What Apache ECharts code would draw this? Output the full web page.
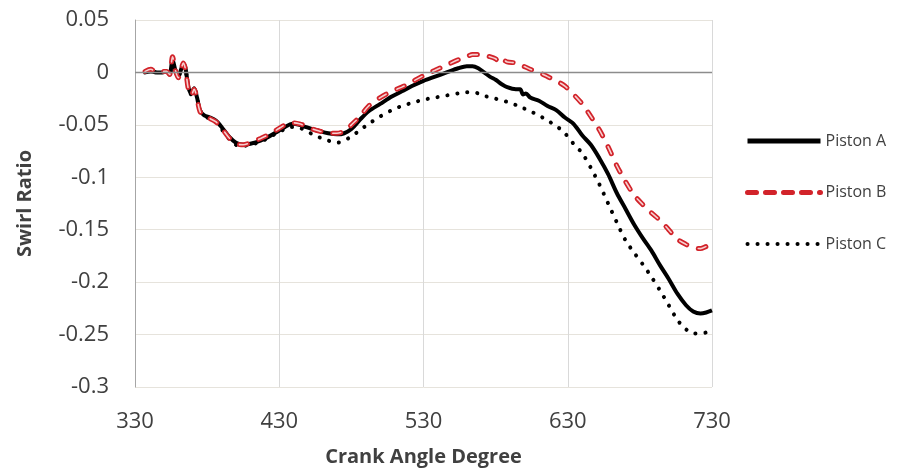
<!DOCTYPE html>
<html>
<head>
<meta charset="utf-8">
<script src="https://cdn.jsdelivr.net/npm/echarts@6/dist/echarts.min.js"></script>
<style>
  html, body { margin: 0; padding: 0; background: #fff; }
  #swirlChart { width: 897px; height: 472px; }
</style>
</head>
<body>
<div id="swirlChart"></div>
<script>
  // crank angle (deg)
  const angles = [337, 341, 345, 349, 352, 354, 356, 358, 360, 362,
    363.5, 365, 367, 369, 371, 373, 375, 378, 382, 386,
    390, 395, 400, 405, 410, 417, 423, 428, 434, 439,
    444, 448, 453, 458, 464, 470, 475, 480, 486, 492,
    500, 508, 515, 522, 530, 538, 546, 554, 560, 564,
    568, 572, 576, 580, 582, 584, 588, 594, 597, 599,
    601, 604, 610, 616, 622, 628, 634, 640, 646, 652,
    658, 664, 670, 676, 682, 688, 694, 700, 706, 712,
    717, 722, 726, 730];

  const pistonA = [0.000, 0.001, 0.000, 0.000, 0.001, -0.002, 0.012, 0.002, -0.004, 0.003,
    0.008, 0.004, -0.014, -0.020, -0.015, -0.024, -0.036, -0.041, -0.043, -0.046,
    -0.052, -0.061, -0.067, -0.069, -0.068, -0.065, -0.061, -0.057, -0.052, -0.049,
    -0.050, -0.052, -0.054, -0.056, -0.058, -0.059, -0.058, -0.054, -0.045, -0.037,
    -0.030, -0.023, -0.018, -0.013, -0.008, -0.004, 0.000, 0.004, 0.006, 0.006,
    0.004, 0.000, -0.004, -0.007, -0.009, -0.011, -0.014, -0.016, -0.016, -0.021,
    -0.020, -0.024, -0.027, -0.032, -0.036, -0.043, -0.049, -0.060, -0.069, -0.082,
    -0.097, -0.115, -0.130, -0.145, -0.158, -0.170, -0.184, -0.197, -0.211, -0.222,
    -0.228, -0.230, -0.229, -0.227];

  const pistonB = [0.001, 0.003, 0.000, 0.001, 0.001, -0.002, 0.015, 0.002, -0.005, 0.003,
    0.009, 0.003, -0.016, -0.022, -0.016, -0.025, -0.037, -0.042, -0.044, -0.047,
    -0.053, -0.062, -0.068, -0.069, -0.067, -0.063, -0.059, -0.055, -0.050, -0.048,
    -0.049, -0.051, -0.054, -0.056, -0.058, -0.058, -0.056, -0.050, -0.042, -0.032,
    -0.024, -0.018, -0.014, -0.009, -0.003, 0.002, 0.007, 0.012, 0.015, 0.017,
    0.017, 0.016, 0.015, 0.013, 0.010, 0.013, 0.010, 0.009, 0.007, 0.006,
    0.005, 0.003, 0.000, -0.004, -0.008, -0.013, -0.021, -0.030, -0.042, -0.055,
    -0.071, -0.089, -0.104, -0.117, -0.126, -0.134, -0.141, -0.150, -0.159, -0.164,
    -0.167, -0.168, -0.166, -0.164];

  const pistonC = [0.000, 0.001, 0.000, 0.000, 0.001, -0.002, 0.011, 0.002, -0.004, 0.003,
    0.007, 0.003, -0.014, -0.021, -0.016, -0.024, -0.036, -0.042, -0.044, -0.047,
    -0.054, -0.063, -0.069, -0.070, -0.069, -0.066, -0.062, -0.058, -0.054, -0.052,
    -0.053, -0.055, -0.059, -0.062, -0.065, -0.067, -0.065, -0.061, -0.055, -0.049,
    -0.042, -0.036, -0.032, -0.029, -0.026, -0.024, -0.022, -0.020, -0.019, -0.019,
    -0.020, -0.022, -0.024, -0.025, -0.026, -0.027, -0.028, -0.031, -0.032, -0.034,
    -0.035, -0.037, -0.041, -0.046, -0.051, -0.058, -0.068, -0.077, -0.091, -0.107,
    -0.125, -0.143, -0.160, -0.172, -0.183, -0.195, -0.208, -0.222, -0.236, -0.245,
    -0.249, -0.249, -0.248, -0.246];

  const seriesNames = ['Piston A', 'Piston B', 'Piston C'];
  const xTicks = [330, 430, 530, 630, 730];
  const yTicks = [0.05, 0, -0.05, -0.1, -0.15, -0.2, -0.25, -0.3];

  let myChart = null;

  function pairs(values) {
    return angles.map((a, i) => [a, values[i]]);
  }

  function initChart() {
    const dom = document.getElementById('swirlChart');
    if (dom) {
      myChart = echarts.init(dom, null, { renderer: 'canvas' });
      setOption();
    }
  }

  function setOption() {
    const font = 'Open Sans';
    const textColor = '#404040';
    const red = '#d2232a';
    const options = {
      animation: false,
      backgroundColor: '#fff',
      grid: {
        left: 135,
        right: 185,
        top: 20,
        bottom: 84,
      },
      legend: {
        data: [
          { name: seriesNames[0], lineStyle: { width: 5 } },
          { name: seriesNames[1], lineStyle: { width: 5, type: [9, 9] } },
          { name: seriesNames[2], lineStyle: { width: 4 } },
        ],
        orient: 'vertical',
        left: 740,
        top: 128,
        itemWidth: 73,
        itemHeight: 14,
        itemGap: 35.5,
        itemStyle: { opacity: 0 },
        textStyle: {
          color: textColor,
          fontFamily: font,
          fontSize: 16,
        },
      },
      xAxis: {
        type: 'value',
        min: xTicks[0],
        max: xTicks[xTicks.length - 1],
        interval: 100,
        name: 'Crank Angle Degree',
        nameLocation: 'middle',
        nameGap: 60,
        nameTextStyle: {
          color: textColor,
          fontFamily: font,
          fontSize: 20,
          fontWeight: 'bold',
        },
        axisLine: { show: false },
        axisTick: { show: false },
        axisLabel: {
          color: textColor,
          fontFamily: font,
          fontSize: 22,
          margin: 24,
        },
        splitLine: {
          lineStyle: { color: '#d9d9d9', width: 1 },
        },
      },
      yAxis: {
        type: 'value',
        min: yTicks[yTicks.length - 1],
        max: yTicks[0],
        interval: 0.05,
        name: 'Swirl Ratio',
        nameLocation: 'middle',
        nameGap: 100,
        nameTextStyle: {
          color: textColor,
          fontFamily: font,
          fontSize: 20,
          fontWeight: 'bold',
        },
        axisLine: {
          show: true,
          lineStyle: { color: '#a6a6a6', width: 1 },
        },
        axisTick: { show: false },
        axisLabel: {
          color: textColor,
          fontFamily: font,
          fontSize: 22,
          margin: 26,
          formatter: (v) => String(parseFloat(v.toFixed(2))),
        },
        splitLine: {
          lineStyle: { color: '#e6e3dc', width: 1 },
        },
      },
      series: [
        {
          name: 'Piston C',
          type: 'line',
          data: pairs(pistonC),
          symbol: 'none',
          smooth: 0.3,
          color: '#000',
          lineStyle: {
            color: '#000',
            width: 4,
            type: [0.1, 9.9],
            cap: 'round',
          },
        },
        {
          name: 'Piston A',
          type: 'line',
          data: pairs(pistonA),
          symbol: 'none',
          smooth: 0.3,
          color: '#000',
          lineStyle: { color: '#000', width: 4 },
          markLine: {
            silent: true,
            symbol: 'none',
            label: { show: false },
            lineStyle: { color: '#8c8c8c', width: 1.3, type: 'solid' },
            data: [{ yAxis: 0 }],
          },
        },
        {
          name: 'Piston B',
          type: 'line',
          data: pairs(pistonB),
          symbol: 'none',
          smooth: 0.3,
          color: red,
          lineStyle: {
            color: red,
            width: 5,
            type: [8, 12],
            cap: 'round',
          },
        },
        {
          // pale core of the hollow dashes
          name: 'Piston B core',
          type: 'line',
          data: pairs(pistonB),
          symbol: 'none',
          smooth: 0.3,
          color: '#f6cfcf',
          lineStyle: {
            color: '#f6cfcf',
            width: 1.6,
            type: [8, 12],
            cap: 'round',
          },
        },
      ],
    };
    if (myChart) {
      myChart.setOption(options);
    }
  }

  initChart();
</script>
</body>
</html>
